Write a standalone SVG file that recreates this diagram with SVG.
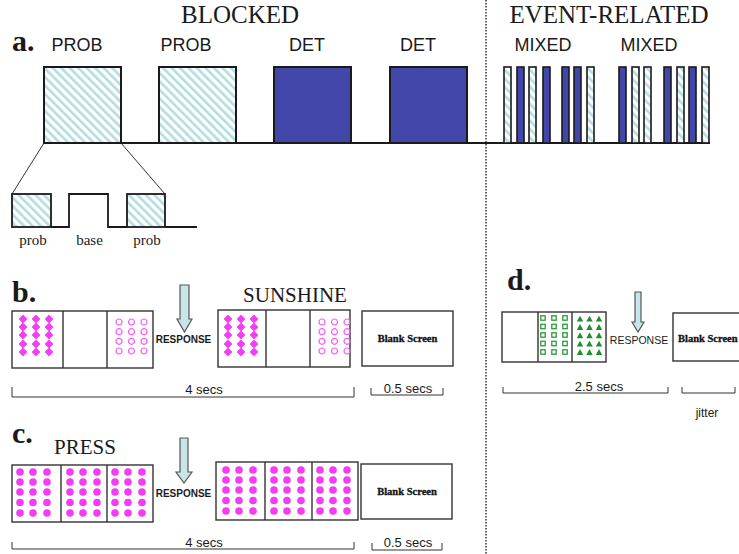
<svg xmlns="http://www.w3.org/2000/svg" xmlns:xlink="http://www.w3.org/1999/xlink" width="739" height="554" viewBox="0 0 739 554">
<style>
.serif{font-family:"Liberation Serif","DejaVu Serif",serif;fill:#1a1a1a}
.sans{font-family:"Liberation Sans",Arial,sans-serif;fill:#1a1a1a}
.lbl{font-size:18px}
.big{font-size:25px}
.letter{font-size:30px;font-weight:bold}
.blk{fill:#fff;stroke:#222;stroke-width:2}
.hat{fill:url(#hatch);stroke:#1a1a1a;stroke-width:2}
.det{fill:#4146a8;stroke:#1a1a1a;stroke-width:2}
.bar{stroke-width:1.6}
.panel{fill:#fff;stroke:#333;stroke-width:1.4}
.div{stroke:#333;stroke-width:1.4}
.thin{fill:none;stroke:#333;stroke-width:1}
.arrow{fill:#c8e6ea;stroke:#555;stroke-width:1.2}
.resp{font-size:10px;font-weight:bold}
.secs{font-size:13px}
.blank{font-family:"Liberation Serif","DejaVu Serif",serif;font-size:10.5px;font-weight:bold;fill:#111;stroke:#111;stroke-width:0.3}
</style>
<defs>
<pattern id="hatch" patternUnits="userSpaceOnUse" width="6" height="6" patternTransform="rotate(-45)">
<rect width="6" height="6" fill="#fff"/>
<rect width="2.6" height="6" fill="#b3dde2"/>
</pattern>
<path id="dia" d="M0,-3.5 L3.5,0 0,3.5 -3.5,0Z" fill="#f43cf4" stroke="#f43cf4" stroke-width="1.2" stroke-linejoin="round"/>
<circle id="ring" r="3" fill="none" stroke="#f65cf6" stroke-width="1.2"/>
<circle id="dot" r="3.8" fill="#f43cf4"/>
<rect id="sq" x="-2.2" y="-2.2" width="4.4" height="4.4" fill="none" stroke="#2a9a3a" stroke-width="1.3"/>
<path id="tri" d="M0,-3.3 L3.2,2.6 -3.2,2.6Z" fill="#1f8f2e"/>
<g id="diagrid">
<use href="#dia" x="0" y="0"/><use href="#dia" x="13" y="0"/><use href="#dia" x="26" y="0"/>
<use href="#dia" x="0" y="8"/><use href="#dia" x="13" y="8"/><use href="#dia" x="26" y="8"/>
<use href="#dia" x="0" y="16"/><use href="#dia" x="13" y="16"/><use href="#dia" x="26" y="16"/>
<use href="#dia" x="0" y="25"/><use href="#dia" x="13" y="25"/><use href="#dia" x="26" y="25"/>
<use href="#dia" x="0" y="33"/><use href="#dia" x="13" y="33"/><use href="#dia" x="26" y="33"/>
</g>
<g id="ringgrid">
<use href="#ring" x="0" y="0"/><use href="#ring" x="12.5" y="0"/><use href="#ring" x="25" y="0"/>
<use href="#ring" x="0" y="9.7"/><use href="#ring" x="12.5" y="9.7"/><use href="#ring" x="25" y="9.7"/>
<use href="#ring" x="0" y="19.3"/><use href="#ring" x="12.5" y="19.3"/><use href="#ring" x="25" y="19.3"/>
<use href="#ring" x="0" y="29"/><use href="#ring" x="12.5" y="29"/><use href="#ring" x="25" y="29"/>
</g>
<g id="dotgrid">
<use href="#dot" x="0" y="0"/><use href="#dot" x="13" y="0"/><use href="#dot" x="27" y="0"/>
<use href="#dot" x="0" y="10"/><use href="#dot" x="13" y="10"/><use href="#dot" x="27" y="10"/>
<use href="#dot" x="0" y="20"/><use href="#dot" x="13" y="20"/><use href="#dot" x="27" y="20"/>
<use href="#dot" x="0" y="30.5"/><use href="#dot" x="13" y="30.5"/><use href="#dot" x="27" y="30.5"/>
<use href="#dot" x="0" y="41"/><use href="#dot" x="13" y="41"/><use href="#dot" x="27" y="41"/>
</g>
<g id="sqgrid">
<use href="#sq" x="0" y="0"/><use href="#sq" x="11" y="0"/><use href="#sq" x="22" y="0"/>
<use href="#sq" x="0" y="8.5"/><use href="#sq" x="11" y="8.5"/><use href="#sq" x="22" y="8.5"/>
<use href="#sq" x="0" y="17"/><use href="#sq" x="11" y="17"/><use href="#sq" x="22" y="17"/>
<use href="#sq" x="0" y="25.5"/><use href="#sq" x="11" y="25.5"/><use href="#sq" x="22" y="25.5"/>
<use href="#sq" x="0" y="34"/><use href="#sq" x="11" y="34"/><use href="#sq" x="22" y="34"/>
</g>
<g id="trigrid">
<use href="#tri" x="0" y="0"/><use href="#tri" x="9.5" y="0"/><use href="#tri" x="19" y="0"/>
<use href="#tri" x="0" y="8.3"/><use href="#tri" x="9.5" y="8.3"/><use href="#tri" x="19" y="8.3"/>
<use href="#tri" x="0" y="16.6"/><use href="#tri" x="9.5" y="16.6"/><use href="#tri" x="19" y="16.6"/>
<use href="#tri" x="0" y="25"/><use href="#tri" x="9.5" y="25"/><use href="#tri" x="19" y="25"/>
<use href="#tri" x="0" y="33.3"/><use href="#tri" x="9.5" y="33.3"/><use href="#tri" x="19" y="33.3"/>
</g>
</defs>
<rect width="739" height="554" fill="#fff"/>

<!-- separator -->
<line x1="486" y1="0" x2="486" y2="554" stroke="#333" stroke-width="1.5" stroke-dasharray="1.5,1.5"/>

<!-- headers -->
<text class="serif big" x="240" y="23" text-anchor="middle">BLOCKED</text>
<text class="serif big" x="609" y="23" text-anchor="middle">EVENT-RELATED</text>
<text class="serif letter" x="12" y="51">a.</text>

<!-- section a -->
<g id="connectors">
<line x1="44" y1="143" x2="710" y2="143" stroke="#1a1a1a" stroke-width="2"/>
<line class="thin" x1="44" y1="143" x2="12" y2="194"/>
<line class="thin" x1="121" y1="143" x2="165" y2="194"/>
<path d="M51,227 H69 V194 H108 V227 H127 M165,227 H197" fill="none" stroke="#1a1a1a" stroke-width="1.8"/>
</g>
<g id="block-prob1"><rect class="hat" x="44" y="67" width="77" height="76"/><text class="sans lbl" x="77" y="51" text-anchor="middle">PROB</text></g>
<g id="block-prob2"><rect class="hat" x="159" y="67" width="77" height="76"/><text class="sans lbl" x="186" y="51" text-anchor="middle">PROB</text></g>
<g id="block-det1"><rect class="det" x="274" y="67" width="77" height="76"/><text class="sans lbl" x="307" y="51" text-anchor="middle">DET</text></g>
<g id="block-det2"><rect class="det" x="390" y="67" width="77" height="76"/><text class="sans lbl" x="418" y="51" text-anchor="middle">DET</text></g>
<g id="mixed">
<text class="sans lbl" x="543" y="51" text-anchor="middle">MIXED</text>
<text class="sans lbl" x="649" y="51" text-anchor="middle">MIXED</text>
<rect class="hat bar" x="504" y="67" width="7" height="76"/>
<rect class="det bar" x="517" y="67" width="7" height="76"/>
<rect class="hat bar" x="529" y="67" width="7" height="76"/>
<rect class="det bar" x="543" y="67" width="7" height="76"/>
<rect class="det bar" x="562" y="67" width="7" height="76"/>
<rect class="det bar" x="574" y="67" width="7" height="76"/>
<rect class="hat bar" x="587" y="67" width="7" height="76"/>
<rect class="det bar" x="619" y="67" width="7" height="76"/>
<rect class="hat bar" x="632" y="67" width="7" height="76"/>
<rect class="hat bar" x="644" y="67" width="7" height="76"/>
<rect class="det bar" x="664" y="67" width="7" height="76"/>
<rect class="hat bar" x="677" y="67" width="7" height="76"/>
<rect class="det bar" x="689" y="67" width="7" height="76"/>
<rect class="hat bar" x="702" y="67" width="7" height="76"/>
</g>
<g id="zoom-detail">
<rect x="12" y="194" width="39" height="33" fill="url(#hatch)" stroke="#1a1a1a" stroke-width="1.8"/>
<rect x="127" y="194" width="38" height="33" fill="url(#hatch)" stroke="#1a1a1a" stroke-width="1.8"/>
<text class="serif" font-size="15" x="33" y="245" text-anchor="middle">prob</text>
<text class="serif" font-size="15" x="89.5" y="245" text-anchor="middle">base</text>
<text class="serif" font-size="15" x="147" y="245" text-anchor="middle">prob</text>
</g>

<!-- section b -->
<g id="section-b">
<text class="serif letter" x="12" y="302">b.</text>
<text class="serif" font-size="21" x="295" y="302" text-anchor="middle">SUNSHINE</text>
<rect class="panel" x="12" y="311" width="141" height="57"/>
<line class="div" x1="63" y1="311" x2="63" y2="368"/><line class="div" x1="107" y1="311" x2="107" y2="368"/>
<use href="#diagrid" x="23" y="319"/>
<use href="#ringgrid" x="119" y="322"/>
<path class="arrow" d="M180,285 H189 V319 H192 L184.5,332 L177,319 H180 Z"/>
<text class="sans resp" x="183.5" y="343" text-anchor="middle">RESPONSE</text>
<rect class="panel" x="218" y="310" width="132" height="57"/>
<line class="div" x1="266" y1="310" x2="266" y2="367"/><line class="div" x1="310" y1="310" x2="310" y2="367"/>
<use href="#diagrid" x="228" y="319"/>
<use href="#ringgrid" x="322" y="322"/>
<rect class="panel" x="362" y="311" width="91" height="55"/>
<text class="blank" x="407.5" y="342" text-anchor="middle">Blank Screen</text>
<path class="thin" d="M12,387 V397 H354 V387"/>
<text class="sans secs" x="204" y="394" text-anchor="middle">4 secs</text>
<path class="thin" d="M371,388 V395 H443 V388"/>
<text class="sans secs" x="408" y="393" text-anchor="middle">0.5 secs</text>
</g>

<!-- section c -->
<g id="section-c">
<text class="serif letter" x="12" y="443">c.</text>
<text class="serif" font-size="21" x="85" y="454" text-anchor="middle">PRESS</text>
<rect class="panel" x="12" y="465" width="141" height="57"/>
<line class="div" x1="61" y1="465" x2="61" y2="522"/><line class="div" x1="107" y1="465" x2="107" y2="522"/>
<use href="#dotgrid" x="20" y="472"/>
<use href="#dotgrid" x="70" y="472"/>
<use href="#dotgrid" x="115" y="472"/>
<path class="arrow" d="M180,438 H188 V472 H192 L184,483 L176,472 H180 Z"/>
<text class="sans resp" x="183.5" y="497" text-anchor="middle">RESPONSE</text>
<rect class="panel" x="216" y="462" width="142" height="58"/>
<line class="div" x1="265" y1="462" x2="265" y2="520"/><line class="div" x1="312" y1="462" x2="312" y2="520"/>
<use href="#dotgrid" x="226" y="470"/>
<use href="#dotgrid" x="274" y="470"/>
<use href="#dotgrid" x="320" y="470"/>
<rect class="panel" x="361" y="464" width="91" height="55"/>
<text class="blank" x="407" y="495" text-anchor="middle">Blank Screen</text>
<path class="thin" d="M12,542 V549 H354 V542"/>
<text class="sans secs" x="204" y="547" text-anchor="middle">4 secs</text>
<path class="thin" d="M372,543 V550 H442 V543"/>
<text class="sans secs" x="408" y="547" text-anchor="middle">0.5 secs</text>
</g>

<!-- section d -->
<g id="section-d">
<text class="serif letter" x="507" y="290">d.</text>
<rect class="panel" x="502" y="312" width="104" height="50"/>
<line class="div" x1="538" y1="312" x2="538" y2="362"/><line class="div" x1="572" y1="312" x2="572" y2="362"/>
<use href="#sqgrid" x="543" y="318"/>
<use href="#trigrid" x="580" y="319"/>
<path class="arrow" d="M635,292 H641 V322 H644 L638,332 L632,322 H635 Z"/>
<text class="sans" font-size="10.5" x="639" y="344" text-anchor="middle">RESPONSE</text>
<rect class="panel" x="673" y="313" width="80" height="48"/>
<text class="blank" x="678" y="342">Blank Screen</text>
<path class="thin" d="M503,387 V393 H668 V387"/>
<text class="sans secs" x="599" y="391" text-anchor="middle">2.5 secs</text>
<path class="thin" d="M682,387 V393 H735 V387"/>
<text class="sans" font-size="12" x="707" y="417" text-anchor="middle">jitter</text>
</g>
</svg>
